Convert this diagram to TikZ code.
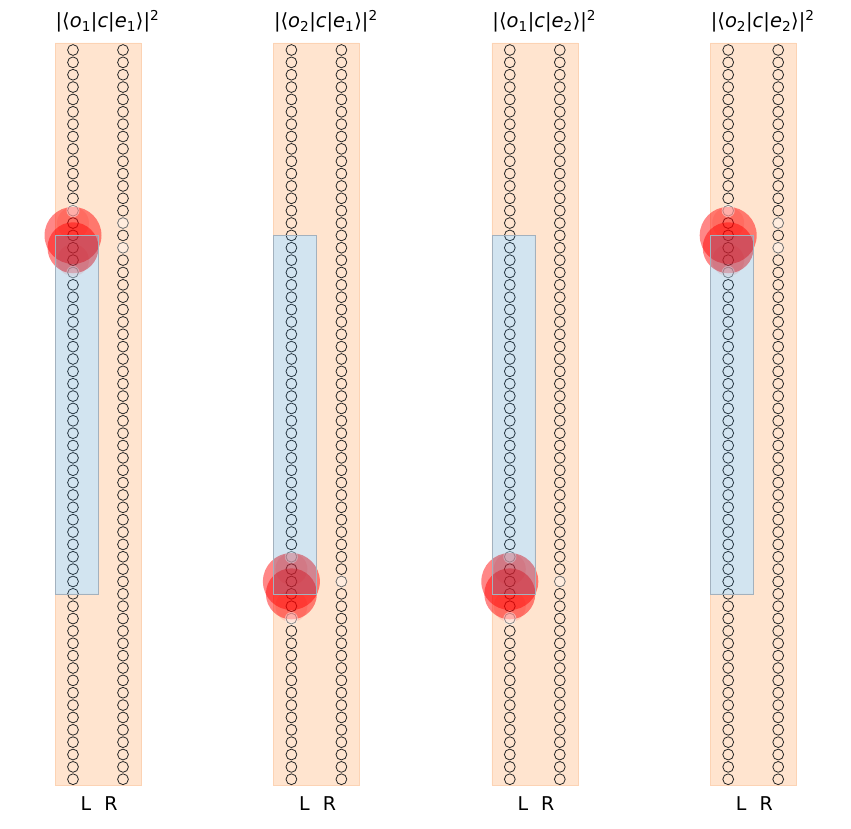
\documentclass[tikz,border=0pt]{standalone}
\usepackage{fontspec}
\setmainfont{DejaVu Sans}
\definecolor{orng}{HTML}{FFE4CF}
\definecolor{orngedge}{HTML}{FCD3B4}
\definecolor{cnull}{HTML}{1F77B4}
\definecolor{bluedge}{HTML}{A3B1BE}
\tikzset{
  bandfill/.style={fill=orng, even odd rule},
  bandedge/.style={draw=orngedge, line width=0.6pt},
  dotbox/.style={fill=cnull, fill opacity=0.2, draw=bluedge, draw opacity=1, line width=0.6pt},
  sitemark/.style={draw=black!85, line width=0.8pt},
  blob/.style={fill=red, fill opacity=0.47, draw=none},
  faintblob/.style={fill=red, fill opacity=0.1, draw=none},
  paleblob/.style={fill=white, fill opacity=0.45, draw=none},
  rpale/.style={fill=white, fill opacity=0.32, draw=none},
  ttl/.style={font=\fontsize{19.5}{22}\selectfont, inner sep=0pt, anchor=base},
  lbl/.style={font=\fontsize{19}{22}\selectfont, inner sep=0pt, anchor=base}
}
\newcommand{\sy}[1]{50+12.36*(#1)}
\begin{document}
\begin{tikzpicture}[x=1pt,y=-1pt]
\useasboundingbox (0,0) rectangle (851,829);
\foreach \p/\o/\e/\bnd/\dir in {0/1/1/15/1, 1/2/1/44/-1, 2/1/2/44/-1, 3/2/2/15/1}{
  \pgfmathsetmacro{\dx}{\p*218.4}
  \pgfmathsetmacro{\xl}{73+\dx}
  \pgfmathsetmacro{\xr}{123+\dx}
  \pgfmathsetmacro{\xm}{98+\dx}
  % band with the dot region left open
  \fill[bandfill] ({\xl-18},43) rectangle ({\xr+18},785)
                  ({\xl-18},{\sy{15}}) rectangle (\xm,{\sy{44}});
  \draw[bandedge] ({\xl-18},43) rectangle ({\xr+18},785);
  % site markers
  \foreach \k in {0,...,59}{
    \draw[sitemark] (\xl,{\sy{\k}}) circle[radius=5.4];
    \draw[sitemark] (\xr,{\sy{\k}}) circle[radius=5.4];
  }
  % probability blobs
  \pgfmathsetmacro{\up}{ifthenelse(\dir>0,\bnd,\bnd-1)}
  \fill[faintblob] (\xl,{\sy{\bnd-\dir}}) circle[radius=16];
  \fill[faintblob] (\xl,{\sy{\bnd+2*\dir}}) circle[radius=16];
  \fill[blob] (\xl,{\sy{\up}}) circle[radius=28.5];
  \fill[blob] (\xl,{\sy{\up+1}}) circle[radius=25.5];
  \fill[paleblob] (\xl,{\sy{\bnd-2*\dir}}) circle[radius=6.5];
  \fill[paleblob] (\xl,{\sy{\bnd+3*\dir}}) circle[radius=6.5];
  \ifnum\dir>0
    \fill[rpale] (\xr,{\sy{14}}) circle[radius=6];
    \fill[rpale] (\xr,{\sy{16}}) circle[radius=6];
  \else
    \fill[rpale] (\xr,{\sy{43}}) circle[radius=6];
  \fi
  % dot region drawn over everything
  \draw[dotbox] ({\xl-18},{\sy{15}}) rectangle (\xm,{\sy{44}});
  % title and labels
  \node[ttl] (title\p) at ({\xm+9.5},28) {|⟨\textit{o}\textsubscript{\o}|\textit{c}|\textit{e}\textsubscript{\e}⟩|\textsuperscript{2}};
  \node[lbl] (L\p) at ({86+\dx},810) {L};
  \node[lbl] (R\p) at ({111+\dx},810) {R};
}
\end{tikzpicture}
\end{document}
